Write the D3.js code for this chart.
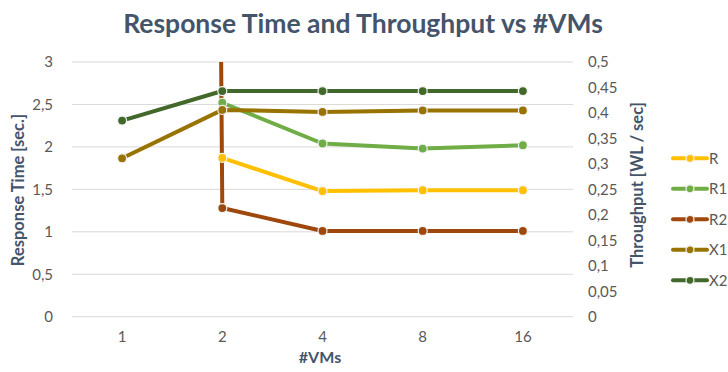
<!DOCTYPE html>
<html><head><meta charset="utf-8">
<script src="https://cdn.jsdelivr.net/npm/d3@7"></script>
<style>body{margin:0;background:#fff}svg{display:block}</style>
</head><body>
<script>
const categories = ["1","2","4","8","16"];
const seriesNames = ["R","R1","R2","X1","X2"];
const R  = [null, 1.87, 1.48, 1.49, 1.49];
const R1 = [null, 2.52, 2.04, 1.98, 2.02];
const R2 = [150, 1.28, 1.01, 1.01, 1.01];
const X1 = [0.311, 0.406, 0.402, 0.405, 0.405];
const X2 = [0.385, 0.443, 0.443, 0.443, 0.443];
const leftTicks = [0,0.5,1,1.5,2,2.5,3];
const rightTicks = [0,0.05,0.1,0.15,0.2,0.25,0.3,0.35,0.4,0.45,0.5];
const colors = ["#FFC000","#70AD47","#9E480E","#997300","#43682B"];
const axisOf = ["left","left","left","right","right"];
const allData = [R,R1,R2,X1,X2];

const W=728,H=372;
const svg=d3.select("body").append("svg").attr("width",W).attr("height",H);
const font="Lato, 'Open Sans', sans-serif";
const x=d3.scaleBand().domain(categories).range([72,573]);
const yL=d3.scaleLinear().domain([0,3]).range([316.7,62]);
const yR=d3.scaleLinear().domain([0,0.5]).range([316.7,62]);
const fmt=d=>String(d).replace(".",",");

// gridlines
svg.append("g").selectAll("line").data(leftTicks).join("line")
  .attr("x1",72).attr("x2",573).attr("y1",d=>yL(d)).attr("y2",d=>yL(d))
  .attr("stroke","#D9D9D9").attr("stroke-width",1);

// axes
const gL=svg.append("g").attr("transform","translate(72,0)")
  .call(d3.axisLeft(yL).tickValues(leftTicks).tickFormat(fmt).tickSize(0).tickPadding(19));
const gR=svg.append("g").attr("transform","translate(573,0)")
  .call(d3.axisRight(yR).tickValues(rightTicks).tickFormat(fmt).tickSize(0).tickPadding(15));
const gX=svg.append("g").attr("transform","translate(0,316.7)")
  .call(d3.axisBottom(x).tickSize(0).tickPadding(15));
[gL,gR,gX].forEach(g=>{g.select(".domain").remove();
  g.selectAll("text").attr("fill","#595959").style("font-family",font).style("font-size","15px");});

// clip
svg.append("clipPath").attr("id","clip").append("rect").attr("x",72).attr("y",62).attr("width",501).attr("height",254.7);

const plot=svg.append("g").attr("clip-path","url(#clip)");
const cx=c=>x(c)+x.bandwidth()/2;
allData.forEach((vals,i)=>{
  const ys=axisOf[i]==="left"?yL:yR;
  const pts=categories.map((c,j)=>({c,v:vals[j]}));
  const line=d3.line().defined(d=>d.v!=null).x(d=>cx(d.c)).y(d=>ys(d.v));
  plot.append("path").datum(pts).attr("d",line).attr("fill","none")
    .attr("stroke",colors[i]).attr("stroke-width",4).attr("stroke-linejoin","round");
});
allData.forEach((vals,i)=>{
  const ys=axisOf[i]==="left"?yL:yR;
  const pts=categories.map((c,j)=>({c,v:vals[j]})).filter(d=>d.v!=null);
  plot.append("g").selectAll("circle").data(pts).join("circle")
    .attr("cx",d=>cx(d.c)).attr("cy",d=>ys(d.v)).attr("r",4.5)
    .attr("fill",colors[i]).attr("stroke","#F2F2F2").attr("stroke-width",1.2);
});

// title
svg.append("text").attr("x",363).attr("y",33).attr("text-anchor","middle")
  .attr("fill","#44546A").style("font-family",font).style("font-weight","bold").style("font-size","26.5px")
  .text("Response Time and Throughput vs #VMs");
svg.append("text").attr("transform","translate(24,190) rotate(-90)").attr("text-anchor","middle")
  .attr("fill","#44546A").style("font-family",font).style("font-weight","bold").style("font-size","16.5px")
  .text("Response Time [sec.]");
svg.append("text").attr("transform","translate(643,185) rotate(-90)").attr("text-anchor","middle")
  .attr("fill","#44546A").style("font-family",font).style("font-weight","bold").style("font-size","16.5px")
  .text("Throughput  [WL / sec]");
svg.append("text").attr("x",320).attr("y",363).attr("text-anchor","middle")
  .attr("fill","#44546A").style("font-family",font).style("font-weight","bold").style("font-size","16px")
  .text("#VMs");

// legend
const lg=svg.append("g").selectAll("g").data(seriesNames).join("g")
  .attr("transform",(d,i)=>`translate(673,${158.3+i*30.5})`);
lg.append("line").attr("x1",0).attr("x2",34).attr("stroke",(d,i)=>colors[i]).attr("stroke-width",4).attr("stroke-linecap","round");
lg.append("circle").attr("cx",17).attr("r",4).attr("fill",(d,i)=>colors[i]).attr("stroke","#F2F2F2").attr("stroke-width",1.2);
lg.append("text").attr("x",36).attr("dy","0.35em").attr("fill","#595959")
  .style("font-family",font).style("font-size","15px").text(d=>d);
</script>
</body></html>
